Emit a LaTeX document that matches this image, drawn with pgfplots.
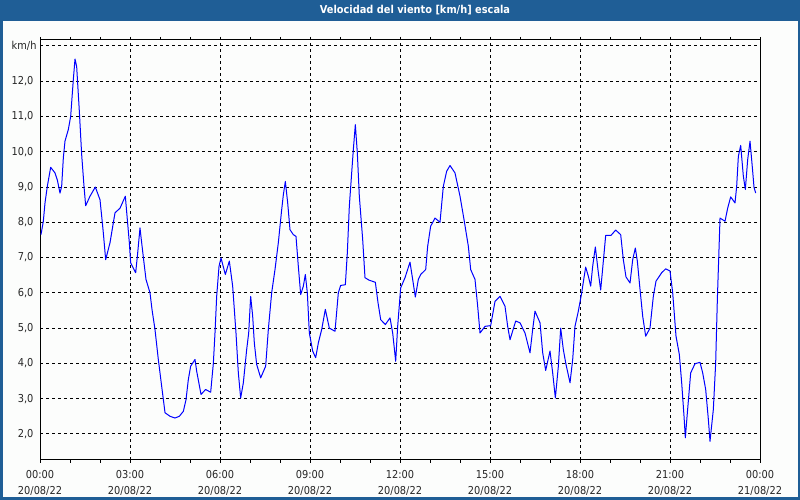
\documentclass[border=0pt]{standalone}
\usepackage{fontspec}
\setmainfont{DejaVu Sans Condensed}
\usepackage{pgfplots}
\pgfplotsset{compat=1.18}
\definecolor{barblue}{HTML}{1F5E96}
\definecolor{bgc}{HTML}{FCFDFC}
\begin{document}
\begin{tikzpicture}[x=1bp,y=1bp]
\useasboundingbox (0,0) rectangle (800,500);
\fill[bgc] (0,0) rectangle (800,500);
\fill[barblue] (0,479) rectangle (800,500);
\draw[barblue, line width=2.5bp] (1.25,1.25) rectangle (798.75,498.75);
\node[text=white, font=\fontsize{10.9bp}{12bp}\selectfont\bfseries] at (415,489.5) {Velocidad del viento [km/h] escala};
\begin{axis}[
  at={(40bp,40bp)}, anchor=south west,
  scale only axis, width=720bp, height=420bp,
  xmin=0, xmax=24, ymin=1.26, ymax=13.17,
  xtick={0,3,...,24},
  minor xtick={1,2,...,23},
  xticklabels={{00:00\\20/08/22},{03:00\\20/08/22},{06:00\\20/08/22},{09:00\\20/08/22},{12:00\\20/08/22},{15:00\\20/08/22},{18:00\\20/08/22},{21:00\\20/08/22},{00:00\\21/08/22}},
  xticklabel style={align=center, font=\fontsize{10.9bp}{15.5bp}\selectfont, text=black!85, yshift=-4bp},
  ytick={2,...,12},
  yticklabel style={font=\fontsize{10.9bp}{12bp}\selectfont, text=black!85},
  /pgf/number format/use comma,
  /pgf/number format/fixed,
  /pgf/number format/fixed zerofill,
  /pgf/number format/precision=1,
  /pgf/number format/assume math mode=true,
  extra y ticks={13},
  extra y tick labels={km/h},
  extra y tick style={grid=major, major tick length=0pt},
  tick align=outside,
  xtick style={black, line width=1bp},
  ytick style={draw=none},
  major tick length=3bp, minor tick length=3bp,
  grid=major,
  major grid style={black, line width=1bp, dash pattern=on 3bp off 3bp},
  axis line style={black, line width=1bp},
  clip=true,
]
\addplot[blue, line width=1bp, line join=round] coordinates {
(0.033,7.65)(0.111,8.03)(0.167,8.55)(0.244,9.02)(0.356,9.56)(0.5,9.40)(0.578,9.20)(0.667,8.83)(0.722,9.02)(0.778,9.83)
(0.833,10.3)(0.944,10.63)(1.022,11.0)(1.111,12.05)(1.167,12.63)(1.222,12.42)(1.311,11.15)(1.389,9.92)(1.467,9.02)(1.522,8.47)
(1.667,8.74)(1.844,9.0)(2.0,8.64)(2.067,8.08)(2.111,7.7)(2.189,6.94)(2.333,7.42)(2.5,8.27)(2.667,8.4)(2.844,8.74)
(2.911,8.08)(2.978,7.42)(3.022,6.85)(3.189,6.57)(3.256,7.13)(3.333,7.84)(3.389,7.42)(3.467,6.85)(3.533,6.38)(3.667,6.0)
(3.733,5.53)(3.833,4.96)(3.944,4.11)(4.056,3.35)(4.167,2.6)(4.333,2.5)(4.5,2.45)(4.644,2.5)(4.778,2.64)(4.867,2.97)
(4.944,3.54)(5.022,3.92)(5.167,4.11)(5.222,3.78)(5.367,3.12)(5.522,3.26)(5.689,3.18)(5.778,4.0)(5.833,4.86)(5.889,5.9)
(5.967,6.75)(6.033,6.99)(6.178,6.52)(6.311,6.9)
(6.422,6.19)(6.533,4.86)(6.611,3.73)(6.689,3.02)(6.778,3.45)(6.889,4.39)(6.956,4.86)(7.022,5.9)(7.089,5.34)(7.144,4.58)
(7.222,3.97)(7.356,3.59)(7.522,3.92)(7.611,4.96)(7.722,6.0)(7.833,6.66)(7.944,7.42)(8.056,8.36)(8.111,8.78)(8.178,9.16)
(8.256,8.55)(8.333,7.79)(8.444,7.65)(8.533,7.6)(8.611,6.75)(8.689,5.95)(8.778,6.19)(8.844,6.52)(8.911,6.0)(8.978,4.86)
(9.089,4.35)(9.189,4.16)(9.278,4.58)(9.389,4.96)(9.511,5.53)(9.644,5.0)(9.833,4.91)(9.944,6.0)(10.022,6.21)(10.178,6.23)
(10.244,7.13)(10.311,8.46)(10.389,9.4)(10.444,10.06)(10.511,10.77)(10.578,9.96)(10.644,8.74)(10.756,7.51)(10.833,6.43)(10.967,6.36)
(11.178,6.3)(11.267,5.72)(11.356,5.24)(11.511,5.1)(11.667,5.29)(11.756,4.86)(11.856,4.06)(11.922,5.05)(12.022,6.14)
(12.167,6.43)(12.333,6.87)(12.422,6.38)(12.511,5.88)(12.611,6.38)(12.689,6.52)(12.856,6.66)(12.922,7.32)(13.022,7.89)(13.167,8.12)
(13.333,8.0)(13.444,9.02)(13.556,9.45)(13.667,9.61)(13.833,9.4)(14.0,8.74)(14.133,8.08)(14.278,7.32)(14.356,6.66)(14.5,6.38)
(14.589,5.62)(14.667,4.86)(14.833,5.05)(15.022,5.07)(15.167,5.76)(15.333,5.9)(15.5,5.62)(15.589,5.05)(15.667,4.67)(15.856,5.2)
(16.0,5.15)(16.167,4.86)(16.333,4.3)(16.422,4.96)(16.5,5.48)(16.667,5.15)(16.756,4.3)(16.856,3.8)(17.0,4.35)(17.089,3.73)
(17.178,3.02)(17.278,3.92)(17.356,5.0)(17.444,4.39)(17.533,3.97)(17.667,3.45)(17.756,4.11)(17.833,5.05)(17.944,5.48)(18.056,6.0)
(18.133,6.43)(18.189,6.73)(18.278,6.47)(18.356,6.19)
(18.422,6.75)(18.511,7.3)(18.611,6.57)(18.689,6.08)(18.778,6.9)(18.856,7.63)(19.033,7.63)(19.189,7.78)(19.356,7.65)(19.444,6.94)
(19.533,6.45)(19.667,6.28)(19.756,6.94)(19.844,7.27)(19.911,6.9)(20.0,6.1)(20.089,5.34)(20.189,4.77)(20.333,5.0)(20.444,5.9)
(20.533,6.33)(20.722,6.57)(20.856,6.68)(21.0,6.62)(21.089,6.0)(21.2,4.77)(21.311,4.25)(21.389,3.45)(21.467,2.5)(21.511,1.89)
(21.578,2.6)(21.689,3.73)(21.833,3.99)(22.0,4.03)(22.089,3.73)(22.189,3.26)(22.278,2.41)(22.333,1.79)(22.444,2.69)(22.522,4.01)
(22.578,5.81)(22.667,8.12)(22.833,8.03)(22.922,8.4)(23.022,8.72)(23.167,8.55)(23.222,9.02)(23.278,9.87)(23.356,10.18)(23.444,9.31)
(23.511,8.93)(23.589,9.78)(23.667,10.3)(23.744,9.56)(23.8,8.99)(23.856,8.83)
};
\end{axis}
\end{tikzpicture}
\end{document}
